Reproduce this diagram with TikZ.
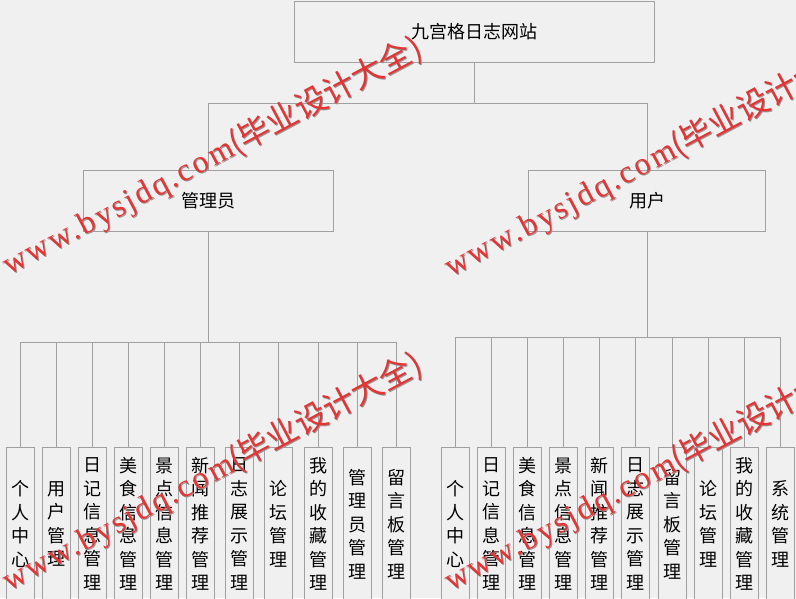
\documentclass[tikz,border=0pt]{standalone}
\usepackage{fontspec}
\newfontfamily\cjk{Noto Sans CJK SC}
\newfontfamily\wmlatin[LetterSpace=8]{Liberation Serif}
\newfontfamily\wmcjk{Noto Sans CJK SC}
\definecolor{bg}{RGB}{240,240,240}
\definecolor{boxline}{RGB}{160,160,160}
\definecolor{wmred}{RGB}{228,52,52}
\definecolor{wmshadow}{RGB}{150,150,150}
\tikzset{
  box/.style={draw=boxline, fill=bg, line width=1pt, inner sep=0pt,
    font=\cjk\fontsize{18}{22}\selectfont},
  leaf/.style={draw=boxline, fill=bg, line width=1pt, inner sep=0pt,
    anchor=north, minimum width=28pt, minimum height=153pt,
    text width=22pt, align=center,
    font=\cjk\fontsize{18}{23.5}\selectfont},
  conn/.style={draw=boxline, line width=1pt},
  wm/.style={anchor=base west, rotate=28, inner sep=0pt, text=wmred,
    font=\fontsize{32}{32}\selectfont},
  wmsh/.style={wm, text=wmshadow}
}
\newcommand{\wmtext}{{\wmlatin www.bysjdq.com}{\wmcjk (毕业设计大全)}}
\begin{document}
\begin{tikzpicture}[x=1pt,y=-1pt]
\fill[bg] (0,0) rectangle (796,598);
\useasboundingbox (0,0) rectangle (796,598);

% top levels
\node[box, minimum width=360pt, minimum height=61pt] (top) at (474,31.5) {九宫格日志网站};
\node[box, minimum width=250pt, minimum height=61pt] (admin) at (208,200.5) {管理员};
\node[box, minimum width=237pt, minimum height=61pt] (user) at (647,200.5) {用户};
\coordinate (b0) at (474,103);
\draw[conn] (top.south) -- (b0);
\draw[conn] (b0) -| (admin.north);
\draw[conn] (b0) -| (user.north);

% admin leaves
\foreach \x/\t [count=\i] in {20/个\\人\\中\\心, 56/用\\户\\管\\理, 92/日\\记\\信\\息\\管\\理,
  128/美\\食\\信\\息\\管\\理, 164/景\\点\\信\\息\\管\\理, 200/新\\闻\\推\\荐\\管\\理,
  239/日\\志\\展\\示\\管\\理, 278/论\\坛\\管\\理, 318/我\\的\\收\\藏\\管\\理,
  357/管\\理\\员\\管\\理, 396/留\\言\\板\\管\\理}{
  \node[leaf] (L\i) at (\x,447) {\t};
}
\coordinate (b1) at (208,342);
\draw[conn] (admin.south) -- (b1);
\foreach \i in {1,...,11}{
  \draw[conn] (b1) -| (L\i.north);
}

% user leaves
\foreach \x/\t [count=\i] in {455/个\\人\\中\\心, 491/日\\记\\信\\息\\管\\理,
  527/美\\食\\信\\息\\管\\理, 563/景\\点\\信\\息\\管\\理, 599/新\\闻\\推\\荐\\管\\理,
  635/日\\志\\展\\示\\管\\理, 672/留\\言\\板\\管\\理, 708/论\\坛\\管\\理,
  744/我\\的\\收\\藏\\管\\理, 780/系\\统\\管\\理}{
  \node[leaf] (R\i) at (\x,447) {\t};
}
\coordinate (b2) at (647,337);
\draw[conn] (user.south) -- (b2);
\foreach \i in {1,...,10}{
  \draw[conn] (b2) -| (R\i.north);
}

% watermarks
\foreach \px/\py in {9/276, 451/278, 9/592, 451/592}{
  \node[wmsh] at (\px+1,\py+1) {\wmtext};
  \node[wm] at (\px,\py) {\wmtext};
}
\end{tikzpicture}
\end{document}
